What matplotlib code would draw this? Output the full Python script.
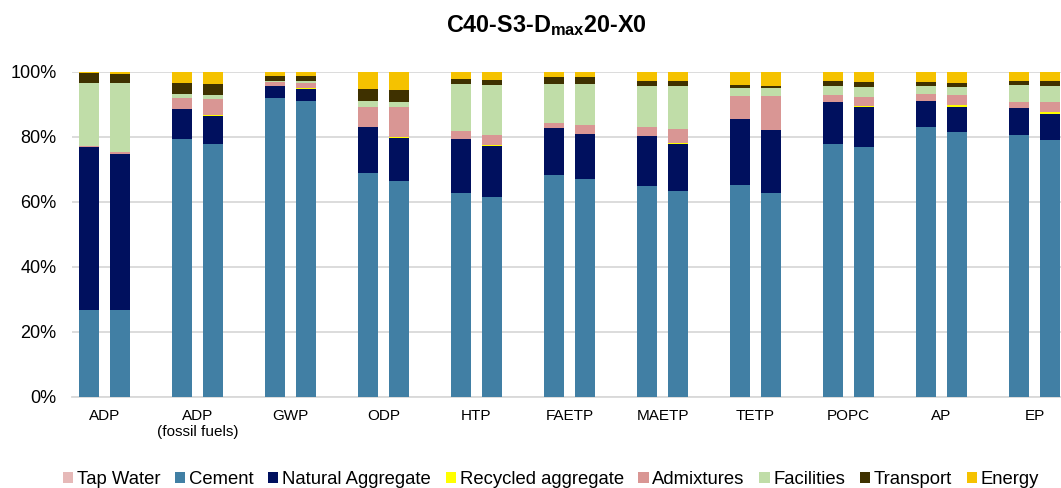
import matplotlib.pyplot as plt
import numpy as np

plt.rcParams['font.family'] = ['Liberation Sans', 'DejaVu Sans']
plt.rcParams['mathtext.fontset'] = 'custom'
plt.rcParams['mathtext.rm'] = 'Liberation Sans'
plt.rcParams['mathtext.bf'] = 'Liberation Sans:bold'

categories = ["ADP", "ADP\n(fossil fuels)", "GWP", "ODP", "HTP", "FAETP",
              "MAETP", "TETP", "POPC", "AP", "EP"]

# values in %, two bars per category: [first bar, second bar] for each category
tap_water = [0.03, 0.03, 0.03, 0.03, 0.03, 0.03, 0.03, 0.03, 0.03, 0.03, 0.03,
             0.03, 0.03, 0.03, 0.03, 0.03, 0.03, 0.03, 0.03, 0.03, 0.03, 0.03]
cement = [26.7, 26.7, 79.4, 77.7, 91.8, 91.0, 68.7, 66.4, 62.7, 61.4, 68.2,
          67.0, 64.8, 63.3, 65.0, 62.7, 77.8, 76.8, 83.0, 81.5, 80.6, 79.1]
natural_agg = [50.0, 48.0, 9.1, 8.7, 3.8, 3.5, 14.4, 13.2, 16.7, 15.8, 14.3,
               13.7, 15.4, 14.5, 20.4, 19.2, 12.9, 12.3, 8.0, 7.6, 8.2, 7.9]
recycled_agg = [0.0, 0.0, 0.0, 0.4, 0.0, 0.4, 0.0, 0.3, 0.0, 0.15, 0.0,
                0.0, 0.0, 0.3, 0.0, 0.0, 0.0, 0.4, 0.0, 0.7, 0.0, 0.6]
admixtures = [0.4, 0.6, 3.5, 4.9, 1.1, 1.6, 6.1, 9.1, 2.4, 3.2, 1.8,
              2.8, 2.9, 4.1, 7.2, 10.5, 2.1, 2.8, 2.2, 3.1, 1.9, 2.9]
facilities = [19.5, 21.1, 1.0, 1.2, 0.5, 0.6, 1.7, 1.7, 14.3, 15.3, 12.0,
              12.8, 12.6, 13.4, 2.5, 2.5, 2.8, 3.0, 2.3, 2.4, 5.1, 5.1]
transport = [3.0, 2.9, 3.4, 3.3, 1.5, 1.4, 3.7, 3.7, 1.7, 1.5, 1.9,
             1.9, 1.4, 1.4, 0.8, 0.8, 1.4, 1.5, 1.3, 1.2, 1.4, 1.5]
energy = [0.4, 0.7, 3.6, 3.8, 1.3, 1.5, 5.4, 5.6, 2.2, 2.6, 1.8,
          1.8, 2.9, 3.0, 4.1, 4.3, 3.0, 3.2, 3.2, 3.5, 2.8, 2.9]

series = [
    ("Tap Water", tap_water, "#E6B9B8"),
    ("Cement", cement, "#417FA4"),
    ("Natural Aggregate", natural_agg, "#00105E"),
    ("Recycled aggregate", recycled_agg, "#FFFF00"),
    ("Admixtures", admixtures, "#D99694"),
    ("Facilities", facilities, "#C0DDA8"),
    ("Transport", transport, "#3F3100"),
    ("Energy", energy, "#F5C200"),
]


def main():
    fig = plt.figure(figsize=(10.61, 4.88), dpi=100)
    ax = fig.add_axes([72 / 1061, 91.3 / 488, 989 / 1061, 325 / 488])

    n = len(categories)
    centers = np.arange(n)
    x = np.ravel(np.column_stack([centers - 0.1667, centers + 0.1667]))
    bottom = np.zeros(2 * n)
    for name, vals, col in series:
        v = np.array(vals) / 100.0
        ax.bar(x, v, width=0.215, bottom=bottom, color=col, label=name,
               edgecolor='none', zorder=3)
        bottom += v

    ax.set_xlim((72 - 104.5) / 93, (1061 - 104.5) / 93)
    ax.set_ylim(0, 1.0)
    ax.set_yticks(np.arange(0, 1.01, 0.2))
    ax.set_yticklabels(["%d%%" % round(t * 100) for t in np.arange(0, 1.01, 0.2)])
    ax.set_xticks(centers)
    ax.set_xticklabels(categories)
    ax.tick_params(axis='y', length=0, pad=11, labelsize=13, colors='#000000')
    ax.tick_params(axis='x', length=0, pad=9, labelsize=11, colors='#000000')
    ax.grid(axis='y', color='#D9D9D9', linewidth=1.3, zorder=0)
    for s in ['top', 'right', 'left']:
        ax.spines[s].set_visible(False)
    ax.spines['bottom'].set_color('#D9D9D9')
    ax.spines['bottom'].set_linewidth(1.3)

    fig.text(0.515, 1 - 26 / 488, r"C40-S3-D$_{\mathbf{max}}$20-X0",
             ha='center', va='center', fontsize=16.8, fontweight='bold')

    fig.legend(loc='center', bbox_to_anchor=(551 / 1061, 1 - 479.5 / 488),
               ncol=8, frameon=False, fontsize=13.3, handlelength=0.55,
               handleheight=0.55, handletextpad=0.2, columnspacing=0.8,
               borderpad=0, borderaxespad=0)

    fig.savefig("out.png", dpi=100)


if __name__ == '__main__':
    main()
